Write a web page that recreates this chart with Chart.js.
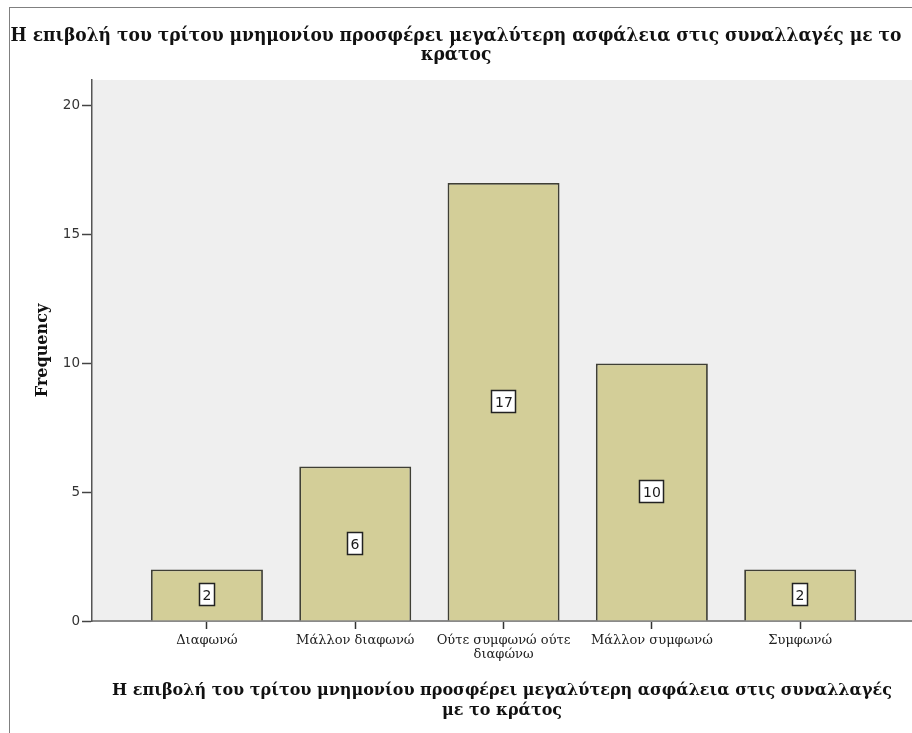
<!DOCTYPE html>
<html>
<head>
<meta charset="utf-8">
<script src="https://cdn.jsdelivr.net/npm/chart.js@4/dist/chart.umd.min.js"></script>
<style>
  html, body { margin: 0; padding: 0; background: #ffffff; }
  #wrap { width: 912px; height: 733px; }
</style>
</head>
<body>
<div id="wrap"><canvas id="chart" width="912" height="733"></canvas></div>
<script>
// Response categories (multi-line entries are drawn on two lines)
const categories = [
  ["Διαφωνώ"],
  ["Μάλλον διαφωνώ"],
  ["Ούτε συμφωνώ ούτε", "διαφώνω"],
  ["Μάλλον συμφωνώ"],
  ["Συμφωνώ"]
];
// Number of respondents per category
const frequencies = [2, 6, 17, 10, 2];
// Frequency axis tick values
const yTickValues = [0, 5, 10, 15, 20];

const titleLines = [
  "Η επιβολή του τρίτου μνημονίου προσφέρει μεγαλύτερη ασφάλεια στις συναλλαγές με το",
  "κράτος"
];
const xTitleLines = [
  "Η επιβολή του τρίτου μνημονίου προσφέρει μεγαλύτερη ασφάλεια στις συναλλαγές",
  "με το κράτος"
];

const serif = "'DejaVu Serif', 'Liberation Serif', serif";
const serifCond = "'DejaVu Serif Condensed', 'DejaVu Serif', serif";
const sans = "'DejaVu Sans', 'Liberation Sans', sans-serif";

const points = frequencies.map((v, i) => ({ x: i, y: v }));

// Grey plot background and the outer frame around the whole chart
const backdrop = {
  id: 'backdrop',
  beforeDraw(chart) {
    const { ctx, chartArea: a } = chart;
    ctx.save();
    ctx.fillStyle = '#ffffff';
    ctx.fillRect(0, 0, chart.width, chart.height);
    ctx.fillStyle = '#efefef';
    ctx.fillRect(a.left, a.top, a.right - a.left, a.bottom - a.top);
    ctx.strokeStyle = '#808080';
    ctx.lineWidth = 1;
    ctx.strokeRect(9.5, 7.5, chart.width + 20, chart.height + 20);
    ctx.restore();
  }
};

// Boxed value labels at the middle of each bar
const valueBoxes = {
  id: 'valueBoxes',
  afterDatasetsDraw(chart) {
    const { ctx } = chart;
    const yScale = chart.scales.y;
    const meta = chart.getDatasetMeta(0);
    ctx.save();
    ctx.font = "14px " + sans;
    ctx.textAlign = 'center';
    ctx.textBaseline = 'middle';
    meta.data.forEach((bar, i) => {
      const v = frequencies[i];
      const cx = Math.round(bar.x);
      const cy = Math.round(yScale.getPixelForValue(v / 2));
      const text = String(v);
      const w = Math.round(ctx.measureText(text).width) + 7;
      const h = 23;
      const x0 = cx - Math.round(w / 2);
      const y0 = cy - Math.round(h / 2);
      ctx.fillStyle = '#ffffff';
      ctx.fillRect(x0, y0, w, h);
      ctx.strokeStyle = '#222222';
      ctx.lineWidth = 1.5;
      ctx.strokeRect(x0 + 0.5, y0 + 0.5, w - 1, h - 1);
      ctx.fillStyle = '#1a1a1a';
      ctx.fillText(text, cx, cy + 1);
    });
    ctx.restore();
  }
};

new Chart(document.getElementById('chart'), {
  type: 'bar',
  data: {
    datasets: [{
      data: points,
      backgroundColor: '#d3ce98',
      borderColor: '#3f3f35',
      borderWidth: 1.8,
      borderSkipped: 'bottom',
      barPercentage: 0.755,
      categoryPercentage: 1
    }]
  },
  plugins: [backdrop, valueBoxes],
  options: {
    responsive: false,
    animation: false,
    devicePixelRatio: 1,
    layout: { padding: 0 },
    plugins: {
      legend: { display: false },
      tooltip: { enabled: false },
      title: {
        display: true,
        text: titleLines,
        color: '#111111',
        font: { family: serifCond, size: 19, weight: 'bold', lineHeight: 1.0 },
        padding: { top: 27, bottom: 15 }
      }
    },
    scales: {
      x: {
        type: 'linear',
        min: -0.775,
        max: 4.754,
        offset: false,
        afterBuildTicks(scale) {
          scale.ticks = categories.map((c, i) => ({ value: i }));
        },
        afterFit(scale) { scale.height = 112; },
        grid: {
          offset: false,
          drawOnChartArea: false,
          drawTicks: true,
          tickLength: 8,
          tickColor: '#333333',
          tickWidth: 1.5
        },
        border: { display: true, color: '#8a8a8a', width: 2 },
        ticks: {
          autoSkip: false,
          maxRotation: 0,
          minRotation: 0,
          padding: 4,
          color: '#222222',
          font: { family: serif, size: 13, lineHeight: 1.1 },
          callback: (value) => categories[value]
        },
        title: {
          display: true,
          text: xTitleLines,
          color: '#111111',
          font: { family: serif, size: 16, weight: 'bold', lineHeight: 1.25 },
          padding: { top: 0, bottom: 12 }
        }
      },
      y: {
        type: 'linear',
        min: 0,
        max: 21,
        afterBuildTicks(scale) {
          scale.ticks = yTickValues.map(v => ({ value: v }));
        },
        afterFit(scale) { scale.width = 92; },
        grid: {
          drawOnChartArea: false,
          drawTicks: true,
          tickLength: 10,
          tickColor: '#444444',
          tickWidth: 1.5
        },
        border: { display: true, color: '#555555', width: 1.5 },
        ticks: {
          padding: 2,
          color: '#333333',
          font: { family: sans, size: 13.5 }
        },
        title: {
          display: true,
          text: 'Frequency',
          color: '#111111',
          font: { family: serif, size: 16, weight: 'bold', lineHeight: 1.2 },
          padding: { top: 33, bottom: 0 }
        }
      }
    }
  }
});
</script>
</body>
</html>
